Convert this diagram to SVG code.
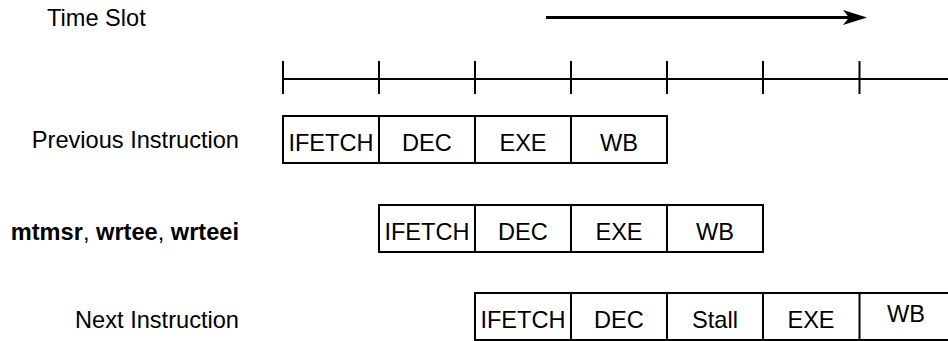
<svg xmlns="http://www.w3.org/2000/svg" width="948" height="341" viewBox="0 0 948 341">
<style>
text{font-family:"Liberation Sans",Arial,sans-serif;font-size:23.6px;fill:#000}
.c{text-anchor:middle}
.e{text-anchor:end}
.b{font-weight:bold}
.box{fill:none;stroke:#000;stroke-width:2}
.ax{stroke:#000;stroke-width:2;fill:none}
</style>
<rect width="948" height="341" fill="#fff"/>
<g id="time-slot">
<text x="47" y="26">Time Slot</text>
</g>
<g id="connectors">
<line x1="546" y1="17.5" x2="850" y2="17.5" stroke="#000" stroke-width="3"/>
<polygon points="843,10 867,17.5 843,25 849,17.5" fill="#000"/>
<line class="ax" x1="283" y1="79" x2="948" y2="79"/>
<path class="ax" d="M283,61V94M379,61V94M475,61V94M571,61V94M667,61V94M763,61V94M859.5,61V94"/>
</g>
<g id="label-prev"><text class="e" x="239" y="148">Previous Instruction</text></g>
<g id="label-mt"><text class="e" x="239" y="240"><tspan class="b">mtmsr</tspan>, <tspan class="b">wrtee</tspan>, <tspan class="b">wrteei</tspan></text></g>
<g id="label-next"><text class="e" x="239" y="328">Next Instruction</text></g>
<g id="row-prev">
<rect class="box" x="283" y="116" width="384" height="47"/>
<path class="ax" d="M379,116V163M475,116V163M571,116V163"/>
<text class="c" x="331" y="151">IFETCH</text>
<text class="c" x="427" y="151">DEC</text>
<text class="c" x="523" y="151">EXE</text>
<text class="c" x="619" y="151">WB</text>
</g>
<g id="row-mt">
<rect class="box" x="379" y="205" width="384" height="47"/>
<path class="ax" d="M475,205V252M571,205V252M667,205V252"/>
<text class="c" x="427" y="240">IFETCH</text>
<text class="c" x="523" y="240">DEC</text>
<text class="c" x="619" y="240">EXE</text>
<text class="c" x="715" y="240">WB</text>
</g>
<g id="row-next">
<rect class="box" x="475" y="293" width="480" height="47"/>
<path class="ax" d="M571,293V340M667,293V340M763,293V340M859.5,293V340"/>
<text class="c" x="523" y="328">IFETCH</text>
<text class="c" x="619" y="328">DEC</text>
<text class="c" x="715" y="328">Stall</text>
<text class="c" x="811" y="328">EXE</text>
<text class="c" x="906" y="322">WB</text>
</g>
</svg>
